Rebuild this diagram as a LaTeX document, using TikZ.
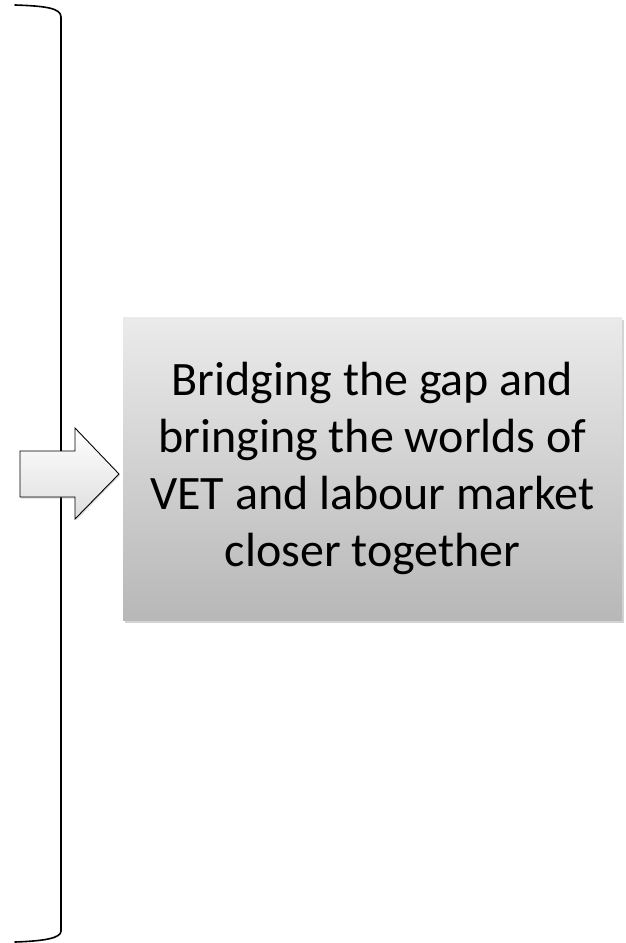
\documentclass[tikz,border=0pt]{standalone}
\usepackage{fontspec}
\setmainfont{Carlito}
\usepackage{tikz}
\usetikzlibrary{shadows}

\begin{document}
\begin{tikzpicture}[
x=1pt, y=-1pt,
goalbox/.style={draw=none, top color=black!8, bottom color=black!28, minimum width=499pt, minimum height=303pt, inner sep=0pt,
  align=center, font=\fontsize{48}{57}\selectfont, drop shadow={shadow xshift=2pt, shadow yshift=-3pt, opacity=0.35}},
bracket/.style={line width=1.6pt, line cap=round},
fatarrow/.style={draw, line width=0.9pt, line join=miter, top color=white, bottom color=black!13,
  drop shadow={shadow xshift=1pt, shadow yshift=-1.5pt, opacity=0.3}}
]
\useasboundingbox (0,0) rectangle (625,943);

% brace on the left
\coordinate (bt) at (15,5);
\coordinate (bb) at (15,942);
\draw[bracket] (bt) .. controls (45,6) and (61,8) .. (61,17) -- (61,931) .. controls (61,938) and (45,941) .. (bb);

% box with the result
\node[goalbox] (goal) at (372.5,468.5) {Bridging the gap and\\bringing the worlds of\\VET and labour market\\closer together};

% block arrow into the box
\coordinate (tip) at (119,474);
\path[fatarrow] (20,451) -- (75,451) -- (75,428) -- (tip) -- (75,519) -- (75,497) -- (20,497) -- cycle;

\end{tikzpicture}
\end{document}
